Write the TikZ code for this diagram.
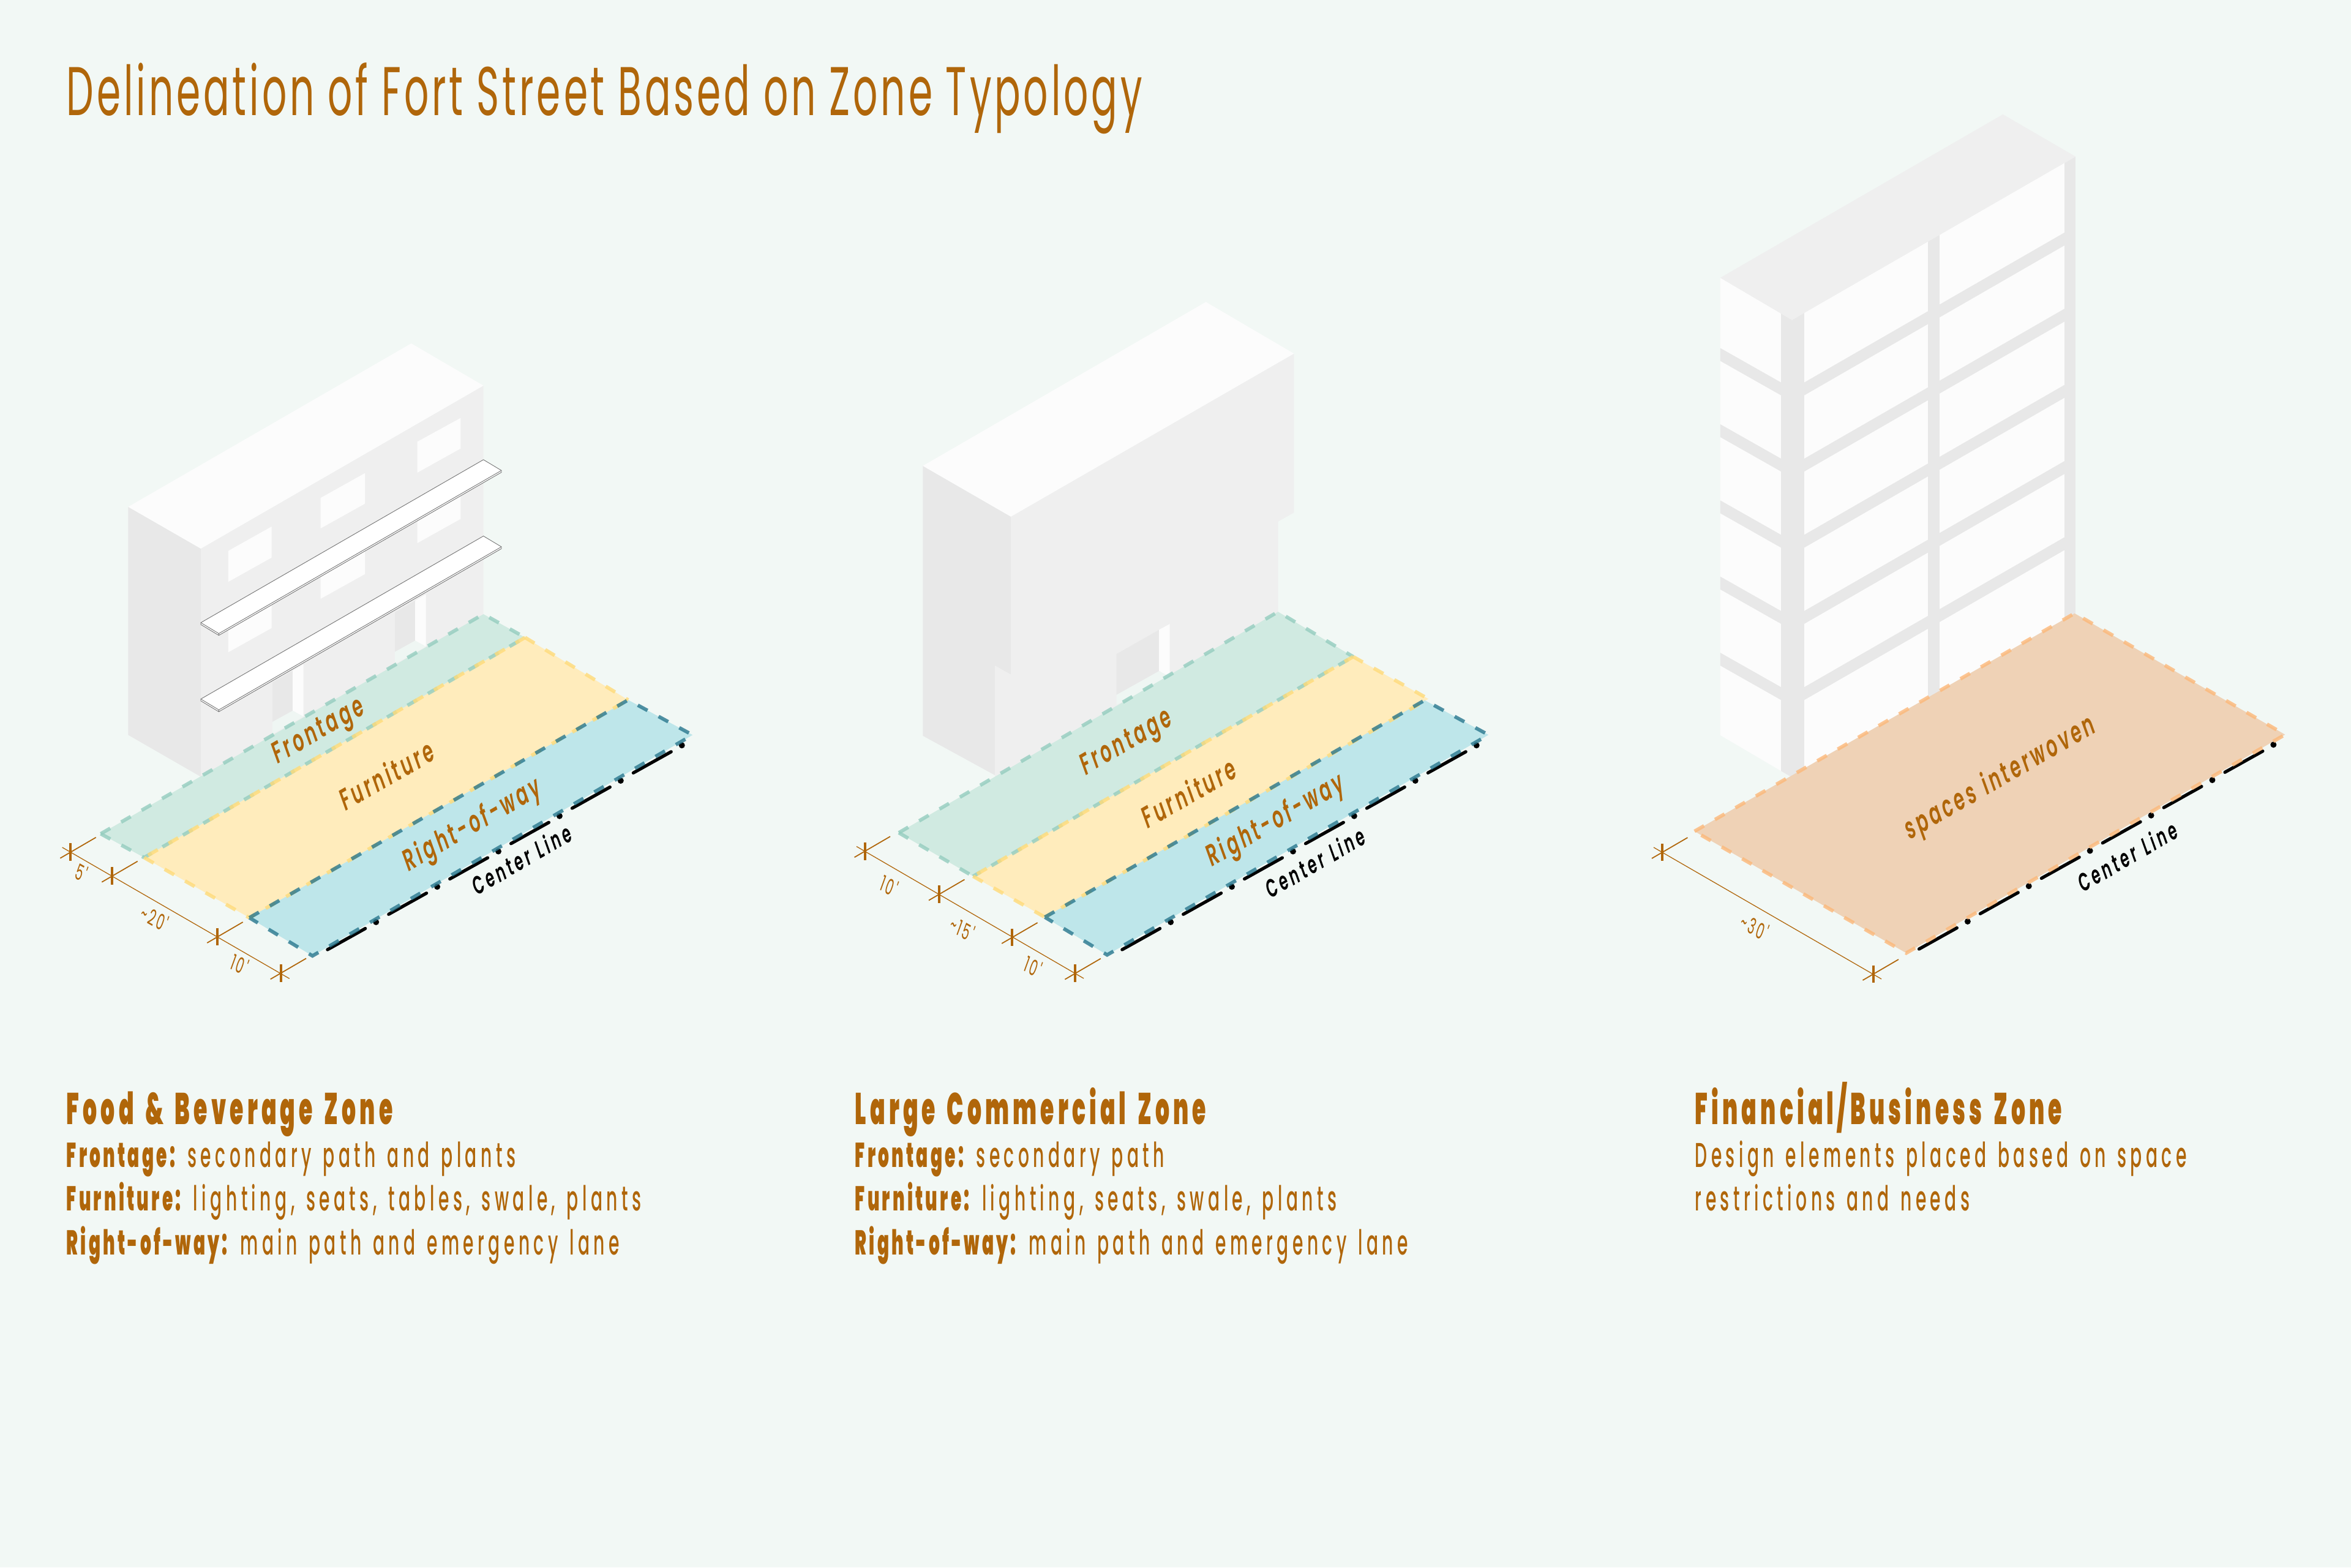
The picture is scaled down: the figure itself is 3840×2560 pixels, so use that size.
\documentclass[tikz,border=0pt]{standalone}
\usepackage{fontspec}
\setmainfont{Poppins}
\newfontfamily\titlefont[FakeStretch=0.56,LetterSpace=4.4]{Poppins}
\newfontfamily\bodyfont[FakeStretch=0.5,LetterSpace=11.5,WordSpace=1.35,BoldFont={Poppins Black},BoldFeatures={LetterSpace=7.5}]{Poppins Medium}
\newfontfamily\headfont[FakeStretch=0.5,LetterSpace=8.5,WordSpace=1.5]{Poppins Black}
\newfontfamily\isofont[FakeStretch=0.6,LetterSpace=10,WordSpace=1.3]{Poppins SemiBold}
\newfontfamily\clfont[FakeStretch=0.6,LetterSpace=12,WordSpace=1.2]{Poppins SemiBold}
\newfontfamily\dimfont[FakeStretch=0.6,LetterSpace=8]{Poppins}
\definecolor{bgc}{HTML}{F2F8F5}
\definecolor{ink}{HTML}{B0660A}
\definecolor{roofc}{HTML}{FCFCFC}
\definecolor{frontc}{HTML}{EFEFEF}
\definecolor{sidec}{HTML}{E8E8E8}
\definecolor{floorc}{HTML}{EFF6F3}
\definecolor{fT}{HTML}{D0EAE1}
\definecolor{sT}{HTML}{94CDBF}
\definecolor{fY}{HTML}{FFECBC}
\definecolor{sY}{HTML}{FFDB79}
\definecolor{fB}{HTML}{BEE6EA}
\definecolor{sB}{HTML}{28778E}
\definecolor{fO}{HTML}{EFD2B6}
\definecolor{sO}{HTML}{FCB879}
\tikzset{
  edgeline/.style={line width=1.65pt,dash pattern=on 5.1pt off 5.85pt,draw opacity=0.8},
  dimline/.style={draw=ink,line width=0.36pt},
  extline/.style={draw=ink,line width=0.5pt},
  tickline/.style={draw=ink,line width=1.15pt},
  clseg/.style={draw=black,line width=1.5pt,line cap=round},
  cldot/.style={fill=black,draw=none},
  isolabel/.style={inner sep=0,text=ink,rotate=30,xslant=.18,font=\fontsize{13.7}{14}\isofont},
  cllabel/.style={inner sep=0,text=black,rotate=30,xslant=.18,font=\fontsize{11.4}{12}\clfont},
  dimlabel/.style={inner sep=0,text=ink,rotate=-30,xslant=-.18,font=\fontsize{9.8}{12}\dimfont},
  headlabel/.style={inner sep=0,anchor=base west,text=ink,font=\fontsize{20.6}{22}\headfont},
  bodylabel/.style={inner sep=0,anchor=base west,text=ink,font=\fontsize{16}{18}\bodyfont},
}
\newcommand{\leadin}[1]{\textbf{#1}\hspace{-2pt}}
\newcommand{\extick}[2]{%
  \draw[tickline] (#1,#2-14.4) -- (#1,#2+14.4);
  \draw[extline] (#1-17,#2+10) -- (#1+41.4,#2-24);}
\newcommand{\clmarks}[2]{%
  \foreach \i in {0,...,5} {
    \begin{scope}[shift={(#1+99.9*\i,#2-57.74*\i)}]
      \draw[clseg] (-79.3,45) -- (-17.5,10.5);
      \fill[cldot] (0,0) circle (5);
    \end{scope}}}
\begin{document}
\begin{tikzpicture}[x=0.01cm,y=-0.01cm]
\useasboundingbox (0,0) rectangle (3840,2560);
\fill[bgc] (0,0) rectangle (3840,2560);
\node[inner sep=0,anchor=base west,text=ink,font=\fontsize{32}{34}\titlefont] (title) at (108,188) {Delineation of Fort Street Based on Zone Typology};

% ---------- Building 1
\fill[sidec] (209.4,827.8) -- (328,896) -- (328,1268.6) -- (209.4,1200.4) -- cycle;
\fill[frontc] (328,896) -- (789.6,629.8) -- (789.6,1006) -- (328,1272) -- cycle;
\fill[roofc] (671.7,560.9) -- (789.6,629.8) -- (328,896) -- (209.4,827.8) -- cycle;
\foreach \dy in {0,115} {
  \fill[roofc] (372.9,899.7+\dy) -- (443.7,860+\dy) -- (443.7,910.7+\dy) -- (372.9,950.3+\dy) -- cycle;
  \fill[roofc] (523.7,813.2+\dy) -- (596,772.8+\dy) -- (596,822.7+\dy) -- (523.7,863+\dy) -- cycle;
  \fill[roofc] (681.5,721.5+\dy) -- (752.4,682.6+\dy) -- (752.4,732.5+\dy) -- (681.5,772.1+\dy) -- cycle;
}
\foreach \ox/\oy in {0/0,-200/114.4} {
  \begin{scope}[shift={(\ox,\oy)}]
    \fill[sidec] (645,1000.2) -- (678,981) -- (678,1046.4) -- (645,1064.7) -- cycle;
    \fill[roofc] (678,981) -- (695.6,970.8) -- (695.6,1055.9) -- (678,1046.4) -- cycle;
    \fill[floorc] (645,1064.7) -- (678,1046.4) -- (695.6,1055.9) -- (645,1084.6) -- cycle;
  \end{scope}
}
\foreach \oy in {0,124.7} {
  \draw[fill=white,draw=black!55,line width=0.25pt] (328,1017+\oy) -- (789.6,750.8+\oy) -- (819,768.4+\oy) -- (819,771.4+\oy) -- (357.4,1037.7+\oy) -- (328,1020+\oy) -- cycle;
  \draw[draw=black!55,line width=0.25pt] (328,1017+\oy) -- (357.4,1034.7+\oy) -- (819,768.4+\oy) (357.4,1034.7+\oy) -- (357.4,1037.7+\oy);
}
% ---------- Zones 1
\fill[fT] (164.5,1361.8) -- (789.6,1003.1) -- (857.6,1041.2) -- (235.4,1400.6) -- cycle;
\fill[fY] (235.4,1400.6) -- (857.6,1041.2) -- (1026,1143.2) -- (407.3,1498.9) -- cycle;
\fill[fB] (407.3,1498.9) -- (1026,1143.2) -- (1131.2,1200.4) -- (510.4,1561.2) -- cycle;
\clmarks{614.2}{1506}
\draw[edgeline,draw=sT] (164.5,1361.8) -- (789.6,1003.1) -- (857.6,1041.2);
\draw[edgeline,draw=sT] (164.5,1361.8) -- (235.4,1400.6);
\draw[edgeline,draw=sT,dash phase=1.1pt] (235.4,1400.6) -- (857.6,1041.2);
\draw[edgeline,draw=sY,dash phase=8.76pt] (235.4,1400.6) -- (857.6,1041.2);
\draw[edgeline,draw=sY] (857.6,1041.2) -- (1026,1143.2);
\draw[edgeline,draw=sY,dash phase=2.19pt] (407.3,1498.9) -- (1026,1143.2);
\draw[edgeline,draw=sY] (235.4,1400.6) -- (407.3,1498.9);
\draw[edgeline,draw=sB] (407.3,1498.9) -- (1026,1143.2) -- (1131.2,1200.4) -- (510.4,1561.2) -- cycle;
\node[isolabel] (fr1) at (521,1197) {Frontage};
\node[isolabel] (fu1) at (631,1265) {Furniture};
\node[isolabel] (ro1) at (772,1349) {Right-of-way};
\node[cllabel] (cl1) at (852,1403) {Center Line};
% dims 1
\draw[dimline] (101.7,1384) -- (472.7,1598.3);
\extick{115.3}{1391.7}\extick{183.3}{1430.7}\extick{355.3}{1530}\extick{458.7}{1589.3}
\node[dimlabel] (d1a) at (133.3,1425) {5'};
\node[dimlabel] (d1b) at (253,1499) {\textasciitilde20'};
\node[dimlabel] (d1c) at (391.7,1575) {10'};

% ---------- Building 2
\fill[sidec] (1507.3,760.9) -- (1651.1,843.8) -- (1651.1,1101.9) -- (1625.2,1087.3) -- (1625.2,1266.2) -- (1507.3,1201.7) -- cycle;
\fill[frontc] (1651.1,843.8) -- (2113.4,577.5) -- (2113.4,837.2) -- (2087.5,851.8) -- (2087.5,1005) -- (1625.2,1272) -- (1625.2,1087.3) -- (1651.1,1101.9) -- cycle;
\fill[roofc] (1969.6,493.2) -- (2113.4,577.5) -- (1651.1,843.8) -- (1507.3,760.9) -- cycle;
\fill[sidec] (1823.7,1068.2) -- (1893.2,1028.6) -- (1893.2,1096) -- (1823.7,1134.9) -- cycle;
\fill[roofc] (1893.2,1028.6) -- (1910.7,1019) -- (1910.7,1105.6) -- (1893.2,1096) -- cycle;
\fill[floorc] (1823.7,1134.9) -- (1893.2,1096) -- (1910.7,1105.6) -- (1823.7,1151) -- cycle;
% zones 2
\fill[fT] (1468,1360.1) -- (2087.5,999.2) -- (2210.2,1072.6) -- (1589.4,1431.2) -- cycle;
\fill[fY] (1589.4,1431.2) -- (2210.2,1072.6) -- (2333,1141.5) -- (1706.6,1498) -- cycle;
\fill[fB] (1706.6,1498) -- (2327,1143.7) -- (2431.2,1200.2) -- (1808.3,1559.6) -- cycle;
\clmarks{1912.1}{1506}
\draw[edgeline,draw=sT] (1468,1360.1) -- (2087.5,999.2) -- (2210.2,1072.6);
\draw[edgeline,draw=sT] (1468,1360.1) -- (1589.4,1431.2);
\draw[edgeline,draw=sT,dash phase=1.1pt] (1589.4,1431.2) -- (2210.2,1072.6);
\draw[edgeline,draw=sY,dash phase=8.76pt] (1589.4,1431.2) -- (2210.2,1072.6);
\draw[edgeline,draw=sY] (2210.2,1072.6) -- (2333,1141.5);
\draw[edgeline,draw=sY,dash phase=2.19pt] (1706.6,1498) -- (2333,1141.5);
\draw[edgeline,draw=sY] (1589.4,1431.2) -- (1706.6,1498);
\draw[edgeline,draw=sB] (1706.6,1498) -- (2327,1143.7) -- (2431.2,1200.2) -- (1808.3,1559.6) -- cycle;
\node[isolabel] (fr2) at (1840.6,1215.6) {Frontage};
\node[isolabel] (fu2) at (1941.6,1294) {Furniture};
\node[isolabel] (ro2) at (2084,1341.8) {Right-of-way};
\node[cllabel] (cl2) at (2148,1408) {Center Line};
\draw[dimline] (1399,1382.5) -- (1770,1598);
\extick{1412.6}{1390.2}\extick{1534}{1460.5}\extick{1653.2}{1531}\extick{1756.4}{1589.6}
\node[dimlabel] (d2a) at (1452.6,1446.6) {10'};
\node[dimlabel] (d2b) at (1571.9,1516.3) {\textasciitilde15'};
\node[dimlabel] (d2c) at (1687.6,1578.7) {10'};

% ---------- Building 3
\fill[roofc] (2809.8,453.7) -- (2926.9,522.6) -- (2926.9,1269.7) -- (2809.8,1200.8) -- cycle;
\fill[roofc] (2926.9,522.6) -- (3389.9,255.7) -- (3389.9,1001.8) -- (2926.9,1269.7) -- cycle;
\begin{scope}
  \clip (2809.8,453.7) -- (2926.9,522.6) -- (3389.9,255.7) -- (3389.9,1001.8) -- (2926.9,1269.7) -- (2809.8,1200.8) -- cycle;
  \foreach \k in {0,...,4} {
    \fill[sidec] (2809.8,568.5+124.4*\k) -- (2909.4,624.9+124.4*\k) -- (2909.4,645.9+124.4*\k) -- (2809.8,589.5+124.4*\k) -- cycle;
    \fill[sidec] (2946.6,624.9+124.4*\k) -- (3371.7,380+124.4*\k) -- (3371.7,401+124.4*\k) -- (2946.6,645.9+124.4*\k) -- cycle;
  }
  \fill[sidec] (2909.4,400) rectangle (2946.6,1300);
  \fill[sidec] (3149.3,300) rectangle (3167.5,1200);
  \fill[sidec] (3371.7,200) rectangle (3389.9,1100);
\end{scope}
\fill[frontc] (3271.4,186.8) -- (3389.9,255.7) -- (2926.9,522.6) -- (2809.8,453.7) -- cycle;
% zone 3
\fill[fO] (2767.7,1357.7) -- (3388.5,1001.8) -- (3732.3,1199.8) -- (3113.5,1556.6) -- cycle;
\clmarks{3213.8}{1505}
\draw[edgeline,draw=sO] (2767.7,1357.7) -- (3388.5,1001.8) -- (3732.3,1199.8) -- (3113.5,1556.6) -- cycle;
\node[isolabel] (sp3) at (3267,1272) {spaces interwoven};
\node[cllabel] (cl3) at (3475,1398) {Center Line};
\draw[dimline] (2701,1384) -- (3073,1599);
\extick{2715}{1392}\extick{3059.5}{1591}
\node[dimlabel] (d3a) at (2866,1513.6) {\textasciitilde30'};

% ---------- Captions
\node[headlabel] (h1) at (108,1836) {Food \& Beverage Zone};
\node[bodylabel] (b11) at (108,1906.7) {\leadin{Frontage:} secondary path and plants};
\node[bodylabel] (b12) at (108,1977.7) {\leadin{Furniture:} lighting, seats, tables, swale, plants};
\node[bodylabel] (b13) at (108,2049) {\leadin{Right-of-way:} main path and emergency lane};
\node[headlabel] (h2) at (1396,1836) {Large Commercial Zone};
\node[bodylabel] (b21) at (1396,1906.7) {\leadin{Frontage:} secondary path};
\node[bodylabel] (b22) at (1396,1977.7) {\leadin{Furniture:} lighting, seats, swale, plants};
\node[bodylabel] (b23) at (1396,2049) {\leadin{Right-of-way:} main path and emergency lane};
\node[headlabel] (h3) at (2768,1836) {Financial/Business Zone};
\node[bodylabel] (b31) at (2768,1906.7) {Design elements placed based on space};
\node[bodylabel] (b32) at (2768,1977.7) {restrictions and needs};
\end{tikzpicture}
\end{document}
